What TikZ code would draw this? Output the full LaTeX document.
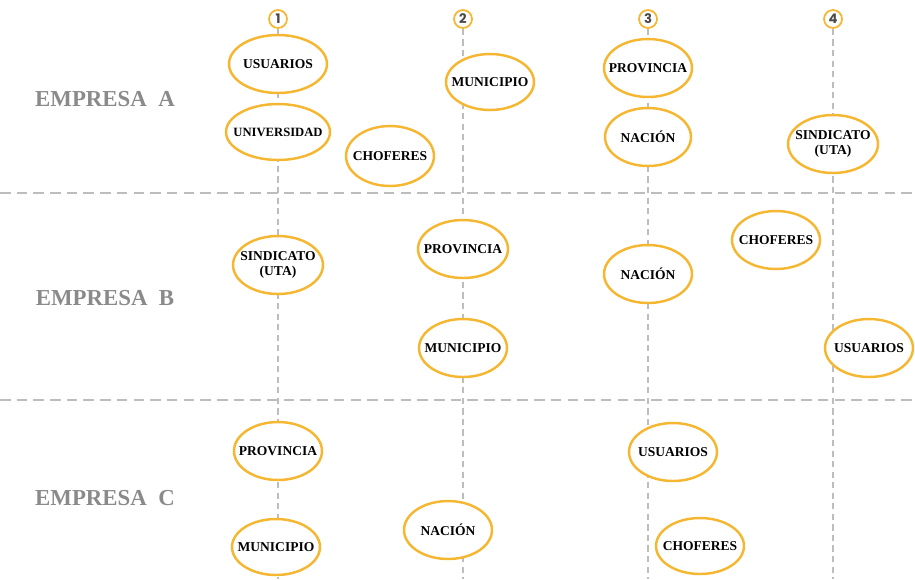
\documentclass[tikz,border=0pt]{standalone}
\usepackage{fontspec}
\setmainfont{Liberation Serif}
\newfontfamily\numfont{Poppins}
\usepackage{xcolor}
\usetikzlibrary{shapes.geometric, positioning}
\definecolor{gold}{HTML}{F5B731}
\definecolor{linegray}{HTML}{BDBDBD}
\definecolor{labelgray}{HTML}{8A8A8A}
\definecolor{numgray}{HTML}{4A4A4A}

\begin{document}
\begin{tikzpicture}[x=0.02cm, y=-0.02cm,
        actor/.style={ellipse, draw=gold, line width=1.4pt, fill=white,
            inner xsep=-9pt, inner ysep=0pt,
            minimum width=1.76cm, minimum height=1.16cm, align=center,
            font=\fontsize{7.7}{9}\selectfont\bfseries},
        num/.style={circle, draw=gold, line width=1pt, fill=white, inner sep=0pt,
            minimum size=0.36cm, text=numgray, font=\numfont\fontsize{7.5}{8}\selectfont\bfseries},
        empresa/.style={text=labelgray, font=\fontsize{13}{15}\selectfont\bfseries},
        vline/.style={draw=linegray, line width=0.6pt, dash pattern=on 3.5pt off 2.5pt},
        hline/.style={draw=linegray, line width=1.4pt, dash pattern=on 6pt off 3.5pt}
    ]
        \useasboundingbox (0,0) rectangle (915,579);
        % columns
        \node[num] (n1) at (278,19) {1};
        \node[num] (n2) at (463,19) {2};
        \node[num] (n3) at (648,19) {3};
        \node[num] (n4) at (833,19) {4};
        \foreach \c/\x in {1/278, 2/463, 3/648, 4/833} {
            \coordinate (b\c) at (\x,579);
            \draw[vline] (n\c) -- (b\c);
        }
        % rows
        \coordinate (h1l) at (0,193);
        \coordinate (h1r) at (915,193);
        \coordinate (h2l) at (0,400);
        \coordinate (h2r) at (915,400);
        \draw[hline] (h1l) -- (h1r);
        \draw[hline] (h2l) -- (h2r);
        \node[empresa] (EA) at (105,99) {EMPRESA\ \ A};
        \node[empresa] (EB) at (105,298) {EMPRESA\ \ B};
        \node[empresa] (EC) at (105,498) {EMPRESA\ \ C};
        % empresa A
        \node[actor, minimum width=1.96cm] (usuA) at (278,64) {USUARIOS};
        \node[actor, minimum width=2.08cm, minimum height=1.12cm,
            font=\fontsize{7.2}{9}\selectfont\bfseries] (uniA) at (278,132) {UNIVERSIDAD};
        \node[actor, minimum height=1.2cm] (choA) at (390,156) {CHOFERES};
        \node[actor, minimum height=1.12cm] (munA) at (490,82) {MUNICIPIO};
        \node[actor] (proA) at (648,68) {PROVINCIA};
        \node[actor, minimum width=1.72cm] (nacA) at (648,137) {NACIÓN};
        \node[actor, minimum width=1.8cm] (sinA) at (833,144) {SINDICATO\\(UTA)};
        % empresa B
        \node[actor, minimum width=1.8cm] (sinB) at (278,265) {SINDICATO\\(UTA)};
        \node[actor, minimum width=1.8cm] (proB) at (463,249) {PROVINCIA};
        \node[actor] (munB) at (463,348) {MUNICIPIO};
        \node[actor] (nacB) at (648,274) {NACIÓN};
        \node[actor] (choB) at (776,240) {CHOFERES};
        \node[actor] (usuB) at (869,348) {USUARIOS};
        % empresa C
        \node[actor] (proC) at (278,451) {PROVINCIA};
        \node[actor, minimum height=1.12cm] (munC) at (276,547) {MUNICIPIO};
        \node[actor] (nacC) at (448,530) {NACIÓN};
        \node[actor] (usuC) at (673,452) {USUARIOS};
        \node[actor, minimum height=1.12cm] (choC) at (700,546) {CHOFERES};
    \end{tikzpicture}
\end{document}
